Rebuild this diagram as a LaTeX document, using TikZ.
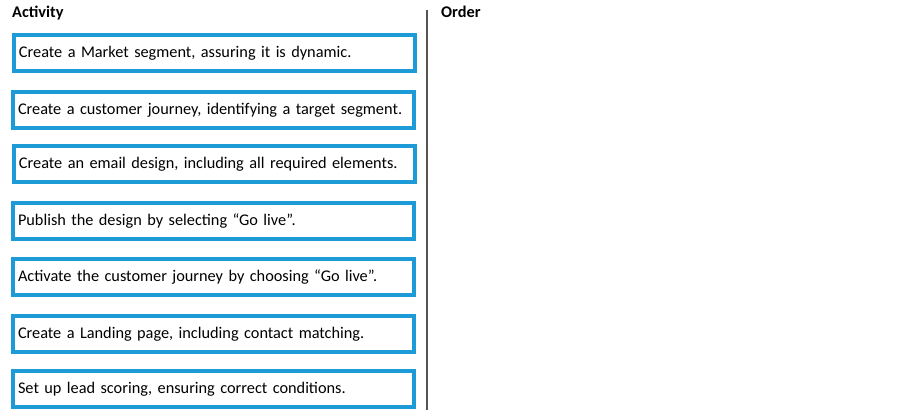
\documentclass[tikz,border=0pt]{standalone}
\usepackage{fontspec}
\setmainfont{Carlito}
\definecolor{boxblue}{RGB}{28,155,214}
\definecolor{divgray}{RGB}{85,85,85}
\begin{document}
\begin{tikzpicture}[x=1pt,y=-1pt,
  actbox/.style={draw=boxblue, line width=4pt, fill=white, rectangle,
    anchor=north west, minimum height=36pt, text width=391pt, inner xsep=5pt,
    inner ysep=0pt, align=left, font=\fontsize{16.3}{19}\selectfont},
  header/.style={anchor=base west, inner sep=0pt, font=\fontsize{16.3}{19}\selectfont\bfseries}]
\useasboundingbox[fill=white] (0,0) rectangle (921,417);
\node[header] (hact) at (12,18) {Activity};
\node[header] (hord) at (441,18) {Order};
\coordinate (divtop) at (427,10);
\coordinate (divbot) at (427,410);
\draw[divgray, line width=1.4pt] (divtop) -- (divbot);
\node[actbox] (a1) at (12,33) {Create a Market segment, assuring it is dynamic.};
\node[actbox] (a2) at (11,90) {Create a customer journey, identifying a target segment.};
\node[actbox] (a3) at (12,144) {Create an email design, including all required elements.};
\node[actbox] (a4) at (11,201) {Publish the design by selecting “Go live”.};
\node[actbox] (a5) at (11,257) {Activate the customer journey by choosing “Go live”.};
\node[actbox] (a6) at (11,314) {Create a Landing page, including contact matching.};
\node[actbox] (a7) at (11,369) {Set up lead scoring, ensuring correct conditions.};
\end{tikzpicture}
\end{document}
